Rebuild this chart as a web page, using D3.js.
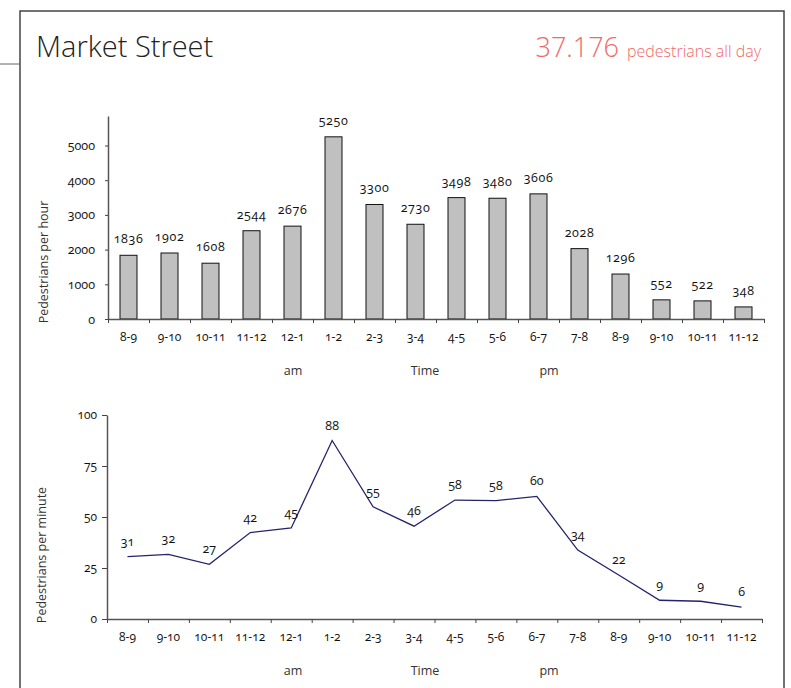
<!DOCTYPE html>
<html>
<head>
<meta charset="utf-8">
<script src="https://cdn.jsdelivr.net/npm/d3@7"></script>
<style>
  body { margin: 0; background: #fff; }
  text { font-family: "Open Sans", sans-serif; }
  .num { font-variant-numeric: oldstyle-nums; font-feature-settings: "onum" 1; }
</style>
</head>
<body>
<div id="chart"></div>
<script>
// chart size
const width = 791;
const height = 688;

// data
const hours = ["8-9","9-10","10-11","11-12","12-1","1-2","2-3","3-4","4-5","5-6","6-7","7-8","8-9","9-10","10-11","11-12"];
const perHour = [1836, 1902, 1608, 2544, 2676, 5250, 3300, 2730, 3498, 3480, 3606, 2028, 1296, 552, 522, 348];
const perMinute = [30.6, 31.7, 26.8, 42.4, 44.6, 87.5, 55, 45.5, 58.3, 58, 60.1, 33.8, 21.6, 9.2, 8.7, 5.8];
const hourTicks = [0, 1000, 2000, 3000, 4000, 5000];
const minuteTicks = [0, 25, 50, 75, 100];
const periodLabels = ["am", "Time", "pm"];

const svg = d3.select("#chart")
  .append("svg")
  .attr("width", width)
  .attr("height", height);

// frame round the page
svg.append("path")
  .attr("d", "M20,688 V11 H784 V688")
  .attr("fill", "none")
  .attr("stroke", "#444")
  .attr("stroke-width", 1.5);
svg.append("line")
  .attr("x1", 0).attr("x2", 20)
  .attr("y1", 64).attr("y2", 64)
  .attr("stroke", "#666")
  .attr("stroke-width", 1);

// header
svg.append("text")
  .attr("x", 36).attr("y", 57)
  .attr("font-family", "Roboto")
  .attr("font-weight", 300)
  .attr("font-size", 29)
  .attr("fill", "#222")
  .text("Market Street");

const head = svg.append("text")
  .attr("x", 761).attr("y", 57)
  .attr("text-anchor", "end")
  .attr("fill", "#f06a6a")
  .attr("font-family", "Roboto")
  .attr("font-weight", 300);
head.append("tspan").attr("font-size", 27).text("37.176");
head.append("tspan").attr("font-size", 16).attr("dx", 8).text("pedestrians all day");

/*
  Bar chart: pedestrians per hour
*/
const x1 = d3.scaleBand()
  .domain(d3.range(hours.length))
  .range([108, 764]);
const x1Ticks = d3.scaleLinear()
  .domain([0, hours.length])
  .range([108, 764]);
const y1 = d3.scaleLinear()
  .domain([0, 5850])
  .range([319, 116]);
const barWidth = 17;

svg.selectAll(".bar")
  .data(perHour)
  .enter()
  .append("rect")
    .attr("class", "bar")
    .attr("x", (d, i) => x1(i) + x1.bandwidth() / 2 - barWidth / 2)
    .attr("y", d => y1(d))
    .attr("width", barWidth)
    .attr("height", d => y1(0) - y1(d))
    .attr("fill", "#c0c0c0")
    .attr("stroke", "#111")
    .attr("stroke-width", 1);

svg.selectAll(".barLabel")
  .data(perHour)
  .enter()
  .append("text")
    .attr("class", "barLabel num")
    .attr("x", (d, i) => x1(i) + x1.bandwidth() / 2)
    .attr("y", d => y1(d) - 12)
    .attr("text-anchor", "middle")
    .attr("font-size", 12.5)
    .attr("letter-spacing", 0.6)
    .attr("fill", "#111")
    .text(d => d);

// y axis
svg.append("g")
  .attr("transform", "translate(108,0)")
  .call(d3.axisLeft(y1).tickValues(hourTicks).tickSize(3).tickPadding(10).tickSizeOuter(0).tickFormat(d3.format("d")))
  .attr("class", "num")
  .attr("font-size", 12.5);

// x axis tick marks on band edges, labels in band centres
svg.append("g")
  .attr("transform", "translate(0,319)")
  .call(d3.axisBottom(x1Ticks).tickValues(d3.range(hours.length + 1)).tickSize(4).tickFormat("").tickSizeOuter(0));
const xLab1 = svg.append("g")
  .attr("transform", "translate(0,319)")
  .call(d3.axisBottom(x1).tickSize(0).tickPadding(13).tickFormat(i => hours[i]))
  .attr("class", "num")
  .attr("font-size", 12);
xLab1.select(".domain").remove();

svg.append("text")
  .attr("transform", "translate(48,262) rotate(-90)")
  .attr("text-anchor", "middle")
  .attr("font-size", 12.5)
  .attr("fill", "#333")
  .text("Pedestrians per hour");

/*
  Line chart: pedestrians per minute
*/
const x2 = d3.scaleBand()
  .domain(d3.range(hours.length))
  .range([107, 762]);
const x2Ticks = d3.scaleLinear()
  .domain([0, hours.length])
  .range([107, 762]);
const y2 = d3.scaleLinear()
  .domain([0, 100])
  .range([619, 415]);

const line = d3.line()
  .x((d, i) => x2(i) + x2.bandwidth() / 2)
  .y(d => y2(d));

svg.append("path")
  .datum(perMinute)
  .attr("d", line)
  .attr("fill", "none")
  .attr("stroke", "#23236e")
  .attr("stroke-width", 1.3);

svg.selectAll(".lineLabel")
  .data(perMinute)
  .enter()
  .append("text")
    .attr("class", "lineLabel num")
    .attr("x", (d, i) => x2(i) + x2.bandwidth() / 2)
    .attr("y", d => y2(d) - 11)
    .attr("text-anchor", "middle")
    .attr("font-size", 12.5)
    .attr("fill", "#111")
    .text(d => Math.round(d));

svg.append("g")
  .attr("transform", "translate(107,0)")
  .call(d3.axisLeft(y2).tickValues(minuteTicks).tickSize(5).tickPadding(5).tickSizeOuter(0))
  .attr("class", "num")
  .attr("font-size", 12);

svg.append("g")
  .attr("transform", "translate(0,619)")
  .call(d3.axisBottom(x2Ticks).tickValues(d3.range(hours.length + 1)).tickSize(4).tickFormat("").tickSizeOuter(0));
const xLab2 = svg.append("g")
  .attr("transform", "translate(0,619)")
  .call(d3.axisBottom(x2).tickSize(0).tickPadding(13).tickFormat(i => hours[i]))
  .attr("class", "num")
  .attr("font-size", 12);
xLab2.select(".domain").remove();

svg.append("text")
  .attr("transform", "translate(46,555) rotate(-90)")
  .attr("text-anchor", "middle")
  .attr("font-size", 12.5)
  .attr("fill", "#333")
  .text("Pedestrians per minute");

// am / Time / pm under both charts
const periodX = [293, 425, 549];
[375, 675].forEach(yy => {
  svg.selectAll(null)
    .data(periodLabels)
    .enter()
    .append("text")
      .attr("x", (d, i) => periodX[i])
      .attr("y", yy)
      .attr("text-anchor", "middle")
      .attr("font-size", 12.5)
      .attr("fill", "#333")
      .text(d => d);
});

// axis colours
svg.selectAll(".domain").attr("stroke", "#555").attr("stroke-width", 1.5);
svg.selectAll(".tick line").attr("stroke", "#444");
svg.selectAll(".tick text").attr("fill", "#111");
</script>
</body>
</html>
